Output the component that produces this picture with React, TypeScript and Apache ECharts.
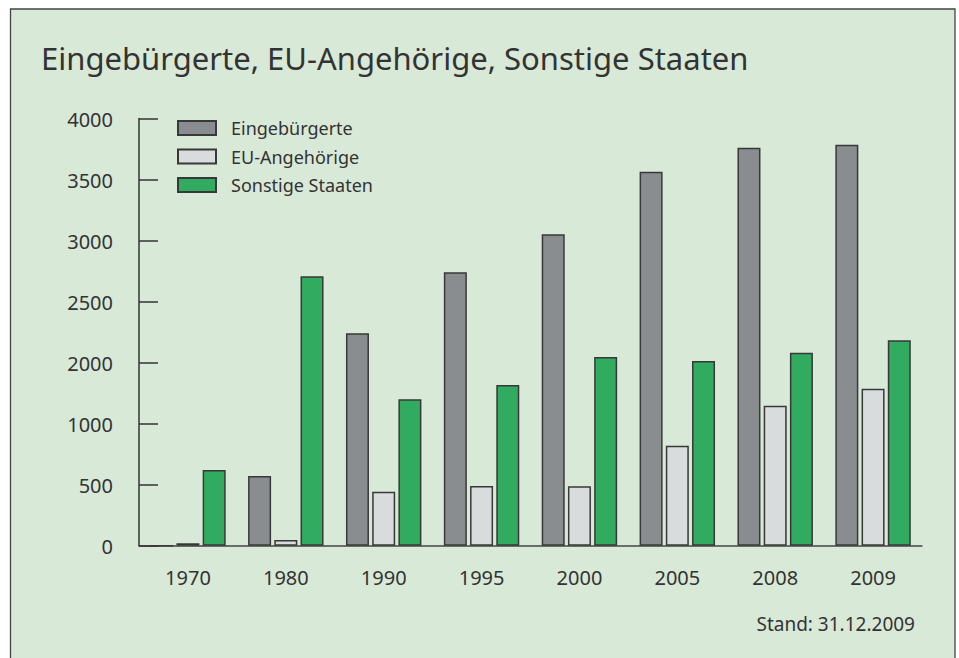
import React, { useEffect, useRef } from "react";
import * as echarts from "echarts";

const categories = ["1970", "1980", "1990", "1995", "2000", "2005", "2008", "2009"];
const eingebuergerte = [0, 571, 1740, 2240, 2551, 3064, 3261, 3285];
const euAngehoerige = [20, 47, 442, 489, 487, 819, 1147, 1286];
const sonstigeStaaten = [620, 2207, 1199, 1317, 1546, 1513, 1581, 1683];
// tick labels exactly as printed on the original axis
const yTickLabels = ["0", "500", "1000", "2000", "2500", "3000", "3500", "4000"];

const titleText = "Eingebürgerte, EU-Angehörige, Sonstige Staaten";
const noteText = "Stand: 31.12.2009";

const FONT = "'Noto Sans', sans-serif";
const TEXT = "#333333";
const BORDER = "#383838";

export default function App() {
  const ref = useRef<HTMLDivElement>(null);
  useEffect(() => {
    if (!ref.current) return;
    const chart = echarts.init(ref.current, undefined, { renderer: "svg" });
    const barBase = {
      type: "bar" as const,
      barWidth: 23,
      barGap: "14%",
    };
    chart.setOption({
      animation: false,
      backgroundColor: "#ffffff",
      textStyle: { fontFamily: FONT },
      graphic: [
        {
          type: "rect",
          z: -10,
          shape: { x: 10.5, y: 9, width: 944.5, height: 720 },
          style: { fill: "#d9e9d8", stroke: "#444444", lineWidth: 1.3 },
        },
        {
          type: "text",
          left: 41,
          top: 42,
          style: { text: titleText, fill: TEXT, font: `31px ${FONT}` },
        },
        {
          type: "text",
          x: 915,
          y: 624,
          style: {
            text: noteText,
            fill: TEXT,
            font: `19px ${FONT}`,
            align: "right",
            verticalAlign: "middle",
          },
        },
      ],
      legend: {
        orient: "vertical",
        left: 177,
        top: 119,
        padding: 0,
        icon: "rect",
        itemWidth: 38,
        itemHeight: 14,
        itemGap: 10.5,
        textStyle: {
          fontFamily: FONT,
          fontSize: 18,
          color: TEXT,
          lineHeight: 15,
          padding: [0, 0, 0, 10],
        },
        data: ["Eingebürgerte", "EU-Angehörige", "Sonstige Staaten"],
      },
      grid: { left: 139, right: 37, top: 118.5, bottom: 112.3, containLabel: false },
      xAxis: {
        type: "category",
        data: categories,
        boundaryGap: true,
        axisLine: { lineStyle: { color: "#444444", width: 1.5 } },
        axisTick: { inside: true, length: 11, lineStyle: { color: "#333333", width: 1.5 } },
        axisLabel: { color: TEXT, fontSize: 20, fontFamily: FONT, margin: 22 },
      },
      yAxis: {
        type: "value",
        min: 0,
        max: 3500,
        interval: 500,
        splitLine: { show: false },
        axisLine: { show: true, lineStyle: { color: "#333333", width: 1.5 } },
        axisTick: { show: true, inside: true, length: 19, lineStyle: { color: "#333333", width: 1.5 } },
        axisLabel: {
          color: TEXT,
          fontSize: 20,
          fontFamily: FONT,
          margin: 26,
          verticalAlign: "top",
          padding: [-9, 0, 0, 0],
          formatter: (v: number) => yTickLabels[Math.round(v / 500)] ?? "",
        },
      },
      series: [
        {
          ...barBase,
          name: "Eingebürgerte",
          data: eingebuergerte,
          itemStyle: { color: "#898d8f", borderColor: BORDER, borderWidth: 1.5 },
        },
        {
          ...barBase,
          name: "EU-Angehörige",
          data: euAngehoerige,
          itemStyle: { color: "#d9dcdc", borderColor: BORDER, borderWidth: 1.5 },
        },
        {
          ...barBase,
          name: "Sonstige Staaten",
          data: sonstigeStaaten,
          itemStyle: { color: "#31ab5f", borderColor: BORDER, borderWidth: 1.5 },
        },
      ],
    });
    return () => chart.dispose();
  }, []);
  return (
    <div
      ref={ref}
      style={{ position: "fixed", left: 0, top: 0, width: 959, height: 658 }}
    />
  );
}
